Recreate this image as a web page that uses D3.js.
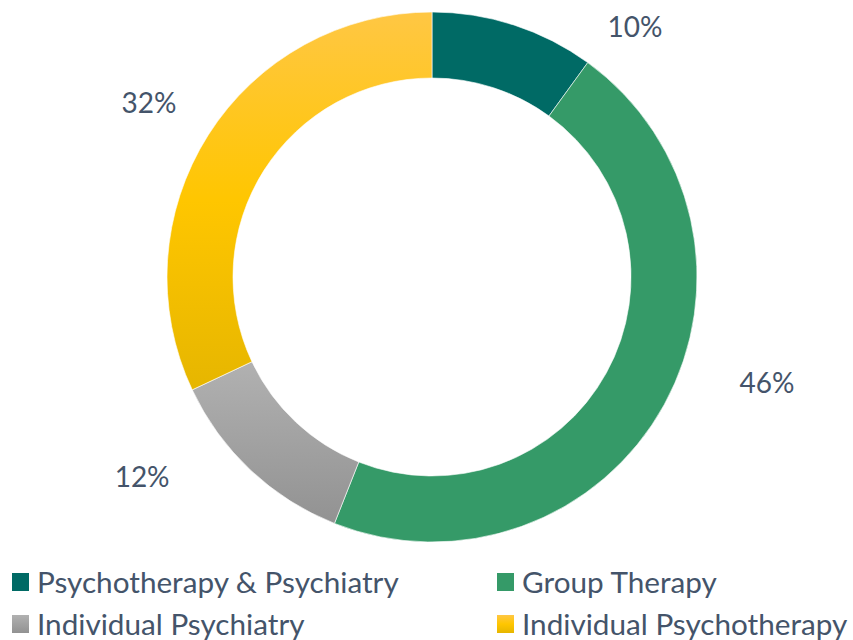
<!DOCTYPE html>
<html><head><meta charset="utf-8">
<script src="https://cdn.jsdelivr.net/npm/d3@7"></script>
<style>body{margin:0;background:#fff}</style>
</head><body>
<svg id="chart" width="853" height="640"></svg>
<script>
const categories = ["Psychotherapy & Psychiatry", "Group Therapy", "Individual Psychiatry", "Individual Psychotherapy"];
const values = [10, 46, 12, 32];
const labels = ["10%", "46%", "12%", "32%"];

const svg = d3.select("#chart");
const cx = 432, cy = 277, R = 265, r = 199;
const font = "Lato, 'Open Sans', sans-serif";
const textColor = "#44546A";

const defs = svg.append("defs");
function grad(id, stops) {
  const g = defs.append("linearGradient").attr("id", id).attr("x1", 0).attr("y1", 0).attr("x2", 0).attr("y2", 1);
  stops.forEach(s => g.append("stop").attr("offset", s[0]).attr("stop-color", s[1]));
}
grad("gTeal", [[0, "#006A65"], [1, "#006A65"]]);
grad("gGreen", [[0, "#359A68"], [1, "#359A68"]]);
grad("gGray", [[0, "#B1B1B1"], [1, "#929292"]]);
grad("gYellow", [[0, "#FFC744"], [0.5, "#FFC600"], [1, "#E6B600"]]);
const fills = ["url(#gTeal)", "url(#gGreen)", "url(#gGray)", "url(#gYellow)"];

const pie = d3.pie().sort(null).value(d => d)(values);
const arc = d3.arc().innerRadius(r).outerRadius(R);
const g = svg.append("g").attr("transform", `translate(${cx},${cy})`);
g.selectAll("path").data(pie).join("path")
  .attr("d", arc)
  .attr("fill", (d, i) => fills[i])
  .attr("stroke", "#fff").attr("stroke-width", 0.6);

// label placement (Excel best-fit style), as fractions of outer radius
const labelOffsets = [[0.766, -0.943], [1.264, 0.40], [-1.094, 0.755], [-1.068, -0.658]];
g.selectAll("text.lbl").data(pie).join("text").attr("class", "lbl")
  .attr("x", (d, i) => labelOffsets[i][0] * R)
  .attr("y", (d, i) => labelOffsets[i][1] * R)
  .attr("dy", "0.36em")
  .attr("text-anchor", "middle")
  .attr("font-family", font).attr("font-size", 28)
  .attr("fill", textColor)
  .text((d, i) => labels[i]);

// legend
const lx = d3.scalePoint().domain([0, 1]).range([12, 497]);
const ly = d3.scalePoint().domain([0, 1]).range([582, 624]);
const leg = svg.append("g");
categories.forEach((c, i) => {
  const col = i % 2, row = Math.floor(i / 2);
  const gg = leg.append("g").attr("transform", `translate(${lx(col)},${ly(row)})`);
  gg.append("rect").attr("x", 0).attr("y", -9).attr("width", 17).attr("height", 18).attr("fill", fills[i]);
  gg.append("text").attr("x", 25).attr("y", 0).attr("dy", "0.36em")
    .attr("font-family", font).attr("font-size", 29.7).attr("fill", textColor).text(c);
});
</script>
</body></html>
